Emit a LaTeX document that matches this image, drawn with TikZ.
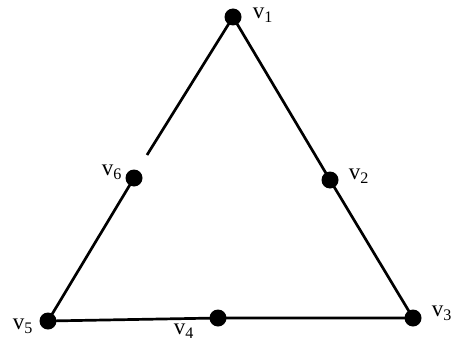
\documentclass[tikz,border=0pt]{standalone}
\usepackage{fontspec}
\setmainfont{Liberation Serif}
\begin{document}
\begin{tikzpicture}[x=1pt,y=-1pt,
  vtx/.style={circle,fill=black,inner sep=0pt,minimum size=17pt},
  edge/.style={line width=2.7pt},
  lbl/.style={inner sep=0pt,font=\fontsize{23}{25}\selectfont}]
\clip (0,0) rectangle (454,342);
\fill[white] (0,0) rectangle (454,342);
\node[vtx] (v1) at (233,17) {};
\node[vtx] (v2) at (330,180) {};
\node[vtx] (v3) at (413,318) {};
\node[vtx] (v4) at (218,318) {};
\node[vtx] (v5) at (48,321) {};
\node[vtx] (v6) at (134,178) {};
\coordinate (g) at (147,155);
\draw[edge] (v1.center) -- (g);
\draw[edge] (v1.center) -- (v2.center) -- (v3.center) -- (v4.center) -- (v5.center) -- (v6.center);
\node[lbl] (l1) at (263,15) {v\textsubscript{1}};
\node[lbl] (l2) at (359,176) {v\textsubscript{2}};
\node[lbl,anchor=east] (l3) at (452,313) {v\textsubscript{3}};
\node[lbl] (l4) at (184,331) {v\textsubscript{4}};
\node[lbl] (l5) at (23,326) {v\textsubscript{5}};
\node[lbl] (l6) at (112,172) {v\textsubscript{6}};
\end{tikzpicture}
\end{document}
